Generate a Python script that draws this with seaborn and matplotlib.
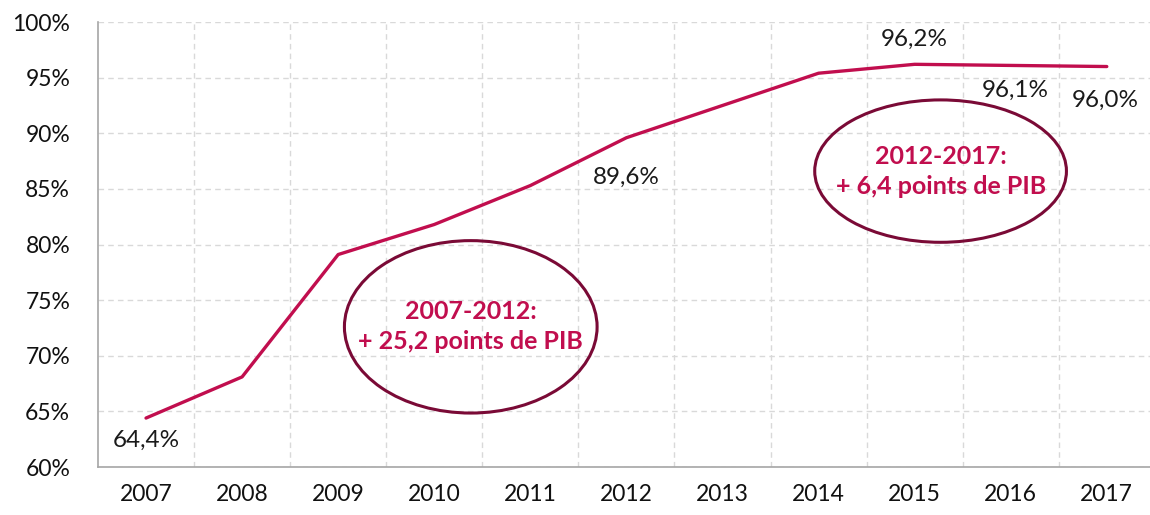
import matplotlib
matplotlib.use('Agg')
import matplotlib.pyplot as plt
import matplotlib.ticker as mticker
from matplotlib.patches import Ellipse
import seaborn as sns
import pandas as pd

# ── données ──────────────────────────────────────────────────────────────────
annees  = [2007, 2008, 2009, 2010, 2011, 2012, 2013, 2014, 2015, 2016, 2017]
dette   = [64.4, 68.1, 79.1, 81.8, 85.3, 89.6, 92.5, 95.4, 96.2, 96.1, 96.0]
etiquettes = {2007: '64,4%', 2012: '89,6%', 2015: '96,2%', 2016: '96,1%', 2017: '96,0%'}
bulle_1 = ['2007-2012:', '+ 25,2 points de PIB']
bulle_2 = ['2012-2017:', '+ 6,4 points de PIB']

df = pd.DataFrame({'annee': annees, 'dette': dette})

ROUGE  = '#C10E4E'
BORDEAUX = '#7A0A36'
GRIS   = '#A6A6A6'

sns.set_style('white')
plt.rcParams['font.family'] = ['Lato', 'DejaVu Sans']

fig = plt.figure(figsize=(11.5, 5.15), dpi=100)
ax = fig.add_axes([0.0852, 0.0932, 0.919, 0.864])

sns.lineplot(data=df, x='annee', y='dette', color=ROUGE, linewidth=2.4, ax=ax)

ax.set_xlim(2006.5, 2017.5)
ax.set_ylim(60, 100)
ax.set_xlabel('')
ax.set_ylabel('')

# axes & grille
ax.set_xticks(annees)
ax.set_xticks([a + 0.5 for a in annees[:-1]], minor=True)
ax.set_yticks(range(60, 101, 5))
ax.yaxis.set_major_formatter(mticker.FormatStrFormatter('%d%%'))
ax.tick_params(axis='x', which='major', length=0, pad=12, labelsize=16.5, labelcolor='#111111')
ax.tick_params(axis='x', which='minor', length=7, color=GRIS, width=1, direction='out')
ax.tick_params(axis='y', which='major', length=6, color=GRIS, width=1, direction='out',
               labelsize=16.5, labelcolor='#111111', pad=14)
ax.grid(False)
ax.grid(True, axis='x', which='minor', color='#D9D9D9', linestyle=(0, (4, 3)), linewidth=1)
ax.grid(True, axis='y', which='major', color='#D9D9D9', linestyle=(0, (4, 3)), linewidth=1)
for s in ['top', 'right']:
    ax.spines[s].set_visible(False)
for s in ['left', 'bottom']:
    ax.spines[s].set_color(GRIS)
    ax.spines[s].set_linewidth(1.2)

# étiquettes des points
pos_etiq = {2007: (2007.0, 62.4), 2012: (2012.0, 86.0), 2015: (2015.0, 98.4),
            2016: (2016.05, 93.9), 2017: (2016.98, 93.0)}
for a, txt in etiquettes.items():
    x, y = pos_etiq[a]
    ax.text(x, y, txt, ha='center', va='center', fontsize=17.5, color='#1a1a1a')

# bulles
for (cx, cy, w, h), lignes in [((2010.38, 72.6, 2.63, 15.5), bulle_1),
                               ((2015.27, 86.6, 2.62, 12.8), bulle_2)]:
    ax.add_patch(Ellipse((cx, cy), w, h, fill=False, edgecolor=BORDEAUX, linewidth=2.2))
    ax.text(cx, cy + 1.35, lignes[0], ha='center', va='center', fontsize=18,
            fontweight='bold', color=ROUGE)
    ax.text(cx, cy - 1.35, lignes[1], ha='center', va='center', fontsize=18,
            fontweight='bold', color=ROUGE)

fig.savefig('out.png', dpi=100)
